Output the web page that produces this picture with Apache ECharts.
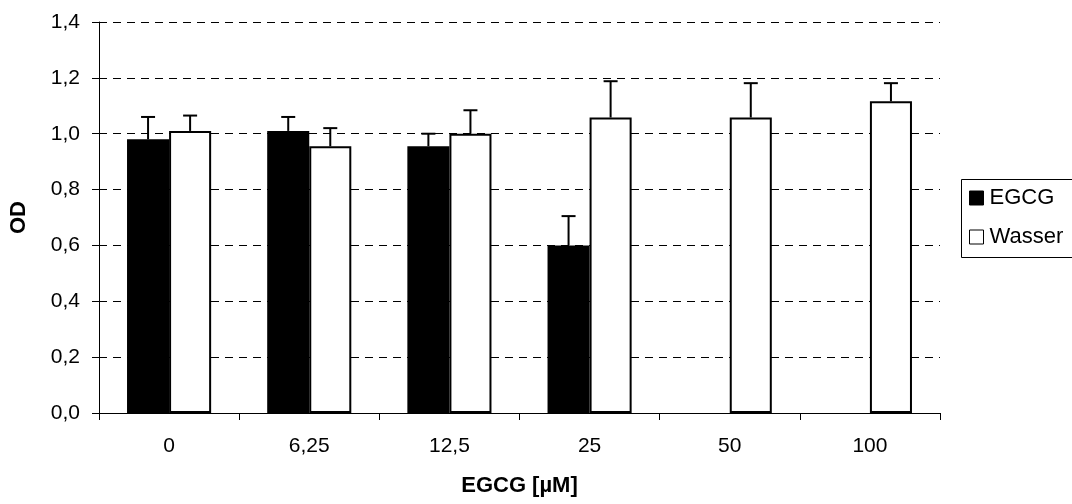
<!DOCTYPE html>
<html>
<head>
<meta charset="utf-8">
<script src="https://cdn.jsdelivr.net/npm/echarts@6/dist/echarts.min.js"></script>
<style>
html,body{margin:0;padding:0;background:#fff;}
#chart{width:1072px;height:504px;}
</style>
</head>
<body>
<div id="chart"></div>
<script>
var categories = ['0', '6,25', '12,5', '25', '50', '100'];
var egcgValues = [0.98, 1.01, 0.955, 0.60, null, null];
var egcgErrors = [0.08, 0.05, 0.045, 0.105, null, null];
var wasserValues = [1.01, 0.955, 1.00, 1.058, 1.058, 1.116];
var wasserErrors = [0.055, 0.065, 0.084, 0.13, 0.123, 0.065];
var yTicks = [0, 0.2, 0.4, 0.6, 0.8, 1.0, 1.2, 1.4];

var FONT = 'Liberation Sans, Arial, sans-serif';
var BAR_FRAC = 0.3;

function errData(vals, errs) {
  var out = [];
  for (var i = 0; i < vals.length; i++) {
    if (vals[i] != null && errs[i] != null) out.push([i, vals[i], errs[i]]);
  }
  return out;
}

function makeErrRender(sign) {
  return function (params, api) {
    var idx = api.value(0), v = api.value(1), e = api.value(2);
    var band = api.size([1, 0])[0];
    var off = sign * band * BAR_FRAC / 2;
    var base = api.coord([idx, v]);
    var top = api.coord([idx, v + e]);
    var x = base[0] + off;
    var cap = 7;
    var st = { stroke: '#000', lineWidth: 2 };
    return {
      type: 'group',
      children: [
        { type: 'line', shape: { x1: x, y1: base[1], x2: x, y2: top[1] }, style: st },
        { type: 'line', shape: { x1: x - cap, y1: top[1], x2: x + cap, y2: top[1] }, style: st }
      ]
    };
  };
}

var chart = echarts.init(document.getElementById('chart'), null, { renderer: 'canvas' });
chart.setOption({
  animation: false,
  backgroundColor: '#fff',
  textStyle: { fontFamily: FONT },
  grid: { left: 98, right: 132, top: 22, bottom: 91, containLabel: false },
  graphic: [
    { type: 'rect', left: 959, top: 177, shape: { width: 112, height: 78 },
      style: { fill: 'none', stroke: '#000', lineWidth: 1 } }
  ],
  legend: {
    orient: 'vertical',
    left: 969,
    top: 187,
    padding: 0,
    itemGap: 17,
    itemWidth: 14,
    itemHeight: 14,
    icon: 'rect',
    textStyle: { fontFamily: FONT, fontSize: 22, color: '#000', padding: [0, 0, 0, 1] },
    data: [
      { name: 'EGCG', itemStyle: { color: '#000', borderColor: '#000', borderWidth: 1 } },
      { name: 'Wasser', itemStyle: { color: '#fff', borderColor: '#000', borderWidth: 1 } }
    ]
  },
  xAxis: {
    type: 'category',
    data: categories,
    boundaryGap: true,
    name: 'EGCG [µM]',
    nameLocation: 'middle',
    nameGap: 62,
    nameTextStyle: { fontFamily: FONT, fontSize: 22, fontWeight: 'bold', color: '#000' },
    axisLine: { lineStyle: { color: '#000', width: 1 } },
    axisTick: { show: true, length: 7, alignWithLabel: false, lineStyle: { color: '#000' } },
    axisLabel: { fontFamily: FONT, fontSize: 21, color: '#000', margin: 23 },
    splitLine: { show: false }
  },
  yAxis: {
    type: 'value',
    min: 0,
    max: 1.4,
    interval: 0.2,
    name: 'OD',
    nameLocation: 'middle',
    nameRotate: 90,
    nameGap: 69,
    nameTextStyle: { fontFamily: FONT, fontSize: 22, fontWeight: 'bold', color: '#000' },
    axisLine: { show: true, lineStyle: { color: '#000', width: 1 } },
    axisTick: { show: true, length: 7, inside: false, lineStyle: { color: '#000' } },
    axisLabel: {
      fontFamily: FONT, fontSize: 21, color: '#000', margin: 19,
      formatter: function (v) { return v.toFixed(1).replace('.', ','); }
    },
    splitLine: { show: true, lineStyle: { color: '#000', width: 1, type: [8, 6] } }
  },
  series: [
    {
      name: 'EGCG', type: 'bar', data: egcgValues,
      barWidth: (BAR_FRAC * 100) + '%', barGap: '0%',
      itemStyle: { color: '#000', borderColor: '#000', borderWidth: 2 }
    },
    {
      name: 'Wasser', type: 'bar', data: wasserValues,
      barWidth: (BAR_FRAC * 100) + '%', barGap: '0%',
      itemStyle: { color: '#fff', borderColor: '#000', borderWidth: 2 }
    },
    {
      name: 'EGCG-err', type: 'custom', renderItem: makeErrRender(-1),
      data: errData(egcgValues, egcgErrors), z: 10, silent: true
    },
    {
      name: 'Wasser-err', type: 'custom', renderItem: makeErrRender(1),
      data: errData(wasserValues, wasserErrors), z: 10, silent: true
    }
  ]
});
</script>
</body>
</html>
